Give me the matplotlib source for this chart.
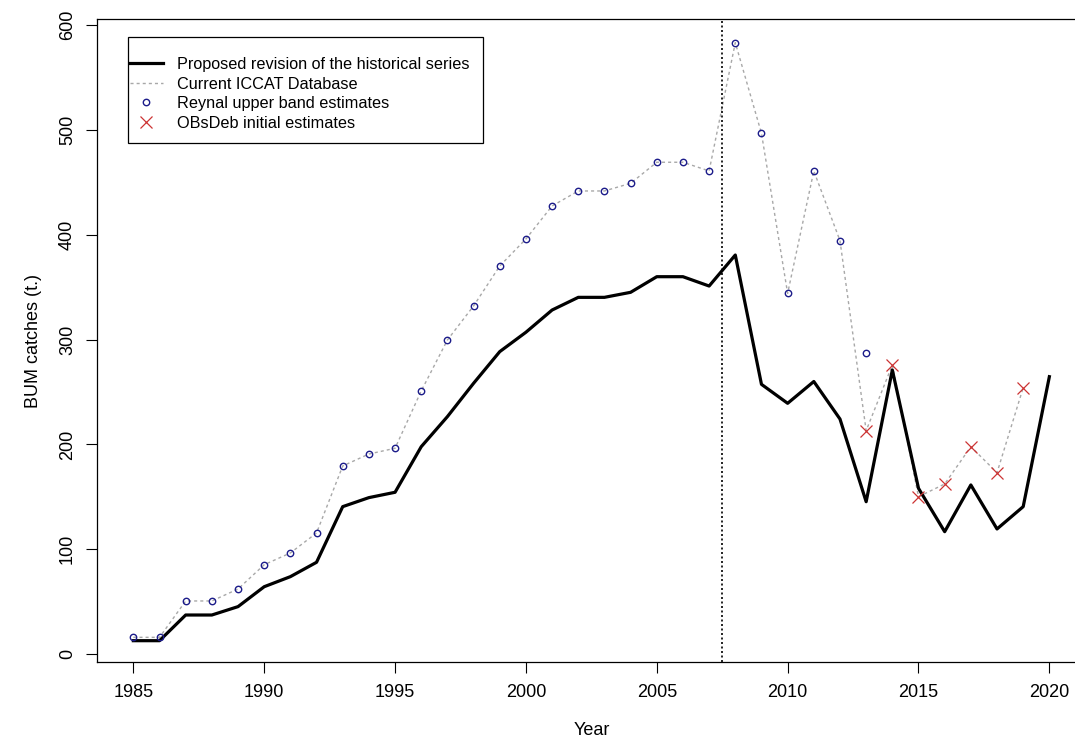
import matplotlib
matplotlib.use("Agg")
from matplotlib import pyplot as plt
from matplotlib.patches import Rectangle

plt.rcParams['font.family'] = ['Liberation Sans', 'DejaVu Sans']

# proposed revision, 1985-2020
years = list(range(1985, 2021))
proposed = [12.7, 12.7, 37.2, 37.2, 45.2, 64.2, 73.8, 87.5, 140.6, 149.2,
            154.3, 197.8, 226.5, 258.3, 288.5, 307.0, 328.2, 340.3, 340.3, 345.1,
            360.0, 360.0, 351.1, 380.7, 257.3, 239.2, 260.0, 224.2, 145.3, 271.0,
            158.1, 116.7, 161.3, 119.3, 140.6, 264.6]

# Reynal upper band, 1985-2013
reynal_years = list(range(1985, 2014))
reynal = [15.9, 15.9, 50.6, 50.6, 62.0, 85.2, 96.4, 115.5, 179.4, 190.8,
          196.3, 251.0, 299.6, 332.1, 370.2, 396.0, 427.5, 441.8, 441.8, 449.1,
          469.2, 469.2, 460.9, 583.3, 496.8, 344.1, 460.9, 394.4, 287.5]

# OBsDeb initial estimates, 2013-2019
obsdeb_years = list(range(2013, 2020))
obsdeb = [213.1, 275.8, 150.1, 162.2, 197.8, 173.0, 254.1]

# current ICCAT database = Reynal up to 2012, then OBsDeb
iccat_years = reynal_years[:-1] + obsdeb_years
iccat = reynal[:-1] + obsdeb

split_year = 2007.5

fig = plt.figure(figsize=(10.75, 7.49), dpi=100)
ax = fig.add_axes([96.7 / 1075, 1 - 661.7 / 749, (1086 - 96.7) / 1075, (661.7 - 19.3) / 749])

l_iccat, = ax.plot(iccat_years, iccat, color='#a8a8a8', lw=1.0, ls=(0, (2.2, 2.2)))
l_prop, = ax.plot(years, proposed, color='black', lw=2.3)
l_rey, = ax.plot(reynal_years, reynal, ls='none', marker='o', ms=4.6,
                 mfc='none', mec='#1c1c8a', mew=1.0)
l_obs, = ax.plot(obsdeb_years, obsdeb, ls='none', marker='x', ms=8,
                 color='#cc3333', mew=0.9)
ax.axvline(split_year, color='black', lw=1.2, ls=(0, (1.2, 1.5)))

ax.set_xlim(1983.6, 2021.4)
ax.set_ylim(-7.35, 605.6)
ax.set_xticks(range(1985, 2021, 5))
ax.set_yticks(range(0, 601, 100))
ax.tick_params(direction='out', length=8, width=0.8, labelsize=13, colors='black')
ax.tick_params(axis='x', pad=8)
ax.tick_params(axis='y', pad=7)
for lab in ax.get_yticklabels():
    lab.set_rotation(90)
    lab.set_va('center')
for s in ax.spines.values():
    s.set_linewidth(0.9)

ax.set_xlabel('Year', fontsize=13, labelpad=15)
ax.set_ylabel('BUM catches (t.)', fontsize=13, labelpad=12)

leg = fig.legend([l_prop, l_iccat, l_rey, l_obs],
                 ['Proposed revision of the historical series', 'Current ICCAT Database',
                  'Reynal upper band estimates', 'OBsDeb initial estimates'],
                 loc='upper left', bbox_to_anchor=(130 / 1075, 1 - 57 / 749),
                 frameon=False, fontsize=11.7, borderpad=0, borderaxespad=0,
                 labelspacing=0.28, handlelength=2.0, handletextpad=0.9)

fig.patches.append(Rectangle((127.7 / 1075, 1 - 142.7 / 749), (483.3 - 127.7) / 1075,
                             (142.7 - 36.7) / 749, transform=fig.transFigure,
                             fill=False, edgecolor='black', lw=0.9))

fig.savefig('out.png', dpi=100)
